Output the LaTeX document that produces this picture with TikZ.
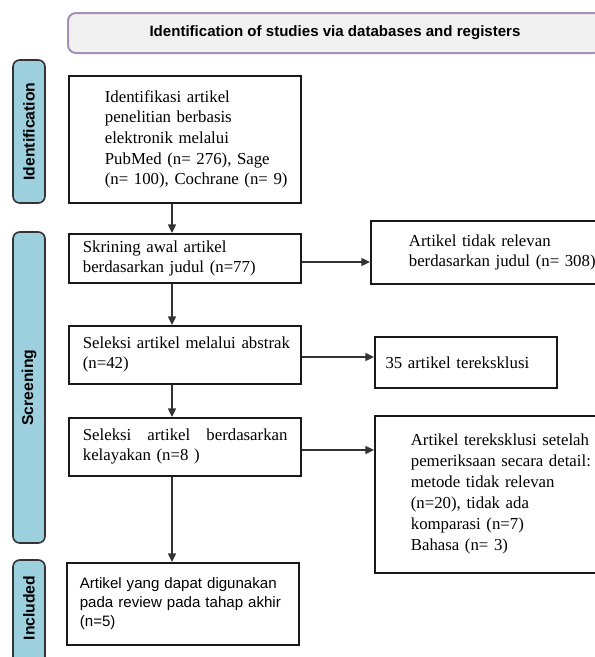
\documentclass[tikz,border=0pt]{standalone}
\usepackage{fontspec}
\setmainfont{Liberation Serif}
\newfontfamily\arialf{Liberation Sans}
\usetikzlibrary{arrows.meta,calc}
\definecolor{sidebl}{HTML}{9DD0DF}
\definecolor{hdrfill}{HTML}{F1F1F1}
\definecolor{hdrline}{HTML}{A392B3}
\definecolor{arrcol}{HTML}{333333}
\newcommand\bxt[3]{\parindent=0pt\leftskip=#1\rightskip=#2 plus 1fil\parfillskip=0pt plus 1fil\relax #3\par}
\tikzset{
  box/.style={draw=black!90, line width=1.3pt, fill=white, anchor=north west,
    inner xsep=0pt, inner ysep=0pt, align=left, text width=174pt,
    minimum width=174pt, font=\fontsize{12.6}{15}\selectfont},
  sidelbl/.style={draw=black!80, line width=1.2pt, fill=sidebl, rounded corners=5pt,
    rotate=90, minimum height=24pt, inner sep=0pt,
    font=\arialf\bfseries\fontsize{11.8}{14}\selectfont},
  hdrbox/.style={draw=hdrline, line width=1.5pt, fill=hdrfill, rounded corners=6pt,
    minimum width=400.5pt, minimum height=30pt, inner sep=0pt,
    font=\arialf\bfseries\fontsize{11.3}{13}\selectfont},
  arr/.style={draw=arrcol, line width=1pt, -{Triangle[length=6.5pt,width=6pt]}}
}
\begin{document}
\begin{tikzpicture}[x=0.75pt,y=-0.75pt]
\useasboundingbox (0,0) rectangle (595,657);
% header
\node[hdrbox] (hdr) at (335,33) {Identification of studies via databases and registers};
% side labels
\node[sidelbl, minimum width=107.25pt] (sid) at (29,131.5) {Identification};
\node[sidelbl, minimum width=233.25pt] (sscr) at (29,387.5) {Screening};
\node[sidelbl, minimum width=120pt] (sinc) at (29,640) {\hspace*{48pt}Included};
% main boxes
\node[box, minimum height=95.25pt, font=\fontsize{12.6}{15.5}\selectfont] (id) at (68,75)
  {\bxt{27pt}{4pt}{Identifikasi artikel\\penelitian berbasis\\elektronik melalui\\PubMed (n= 276), Sage\\(n= 100), Cochrane (n= 9)}};
\node[box, minimum height=36.75pt] (s1) at (68,233)
  {\bxt{10.5pt}{4pt}{Skrining awal artikel\\berdasarkan judul (n=77)}};
\node[box, minimum height=43.5pt] (s2) at (68,325)
  {\bxt{10.5pt}{4pt}{Seleksi artikel melalui abstrak\\(n=42)}};
\node[box, minimum height=43.5pt] (s3) at (68,417)
  {\bxt{10.5pt}{10pt}{Seleksi\hfill artikel\hfill berdasarkan\\kelayakan (n=8 )}};
\node[box, minimum height=61.5pt, font=\arialf\fontsize{11.3}{14.25}\selectfont] (inc) at (66,562)
  {\bxt{9.75pt}{2pt}{Artikel yang dapat digunakan\\pada review pada tahap akhir\\(n=5)}};
% right boxes
\node[box, minimum width=195pt, text width=195pt, minimum height=47.25pt] (r1) at (370,220)
  {\bxt{28.5pt}{0pt}{Artikel tidak relevan\\berdasarkan judul (n= 308)}};
\node[box, minimum width=136.5pt, text width=136.5pt, minimum height=38.25pt] (r2) at (374,336)
  {\bxt{8pt}{0pt}{35 artikel tereksklusi}};
\node[box, minimum width=195pt, text width=195pt, minimum height=117.75pt, font=\fontsize{12.6}{15.75}\selectfont] (r3) at (374,415)
  {\bxt{27pt}{0pt}{Artikel tereksklusi setelah\\pemeriksaan secara detail:\\metode tidak relevan\\(n=20), tidak ada\\komparasi (n=7)\\Bahasa (n= 3)}};
% connectors
\coordinate (vx) at (172,0);
\draw[arr] (id.south -| vx) -- (s1.north -| vx);
\draw[arr] (s1.south -| vx) -- (s2.north -| vx);
\draw[arr] (s2.south -| vx) -- (s3.north -| vx);
\draw[arr] (s3.south -| vx) -- (inc.north -| vx);
\coordinate (h1) at (0,262);
\coordinate (h2) at (0,357);
\coordinate (h3) at (0,450);
\draw[arr] (s1.east |- h1) -- (r1.west |- h1);
\draw[arr] (s2.east |- h2) -- (r2.west |- h2);
\draw[arr] (s3.east |- h3) -- (r3.west |- h3);
\end{tikzpicture}
\end{document}
